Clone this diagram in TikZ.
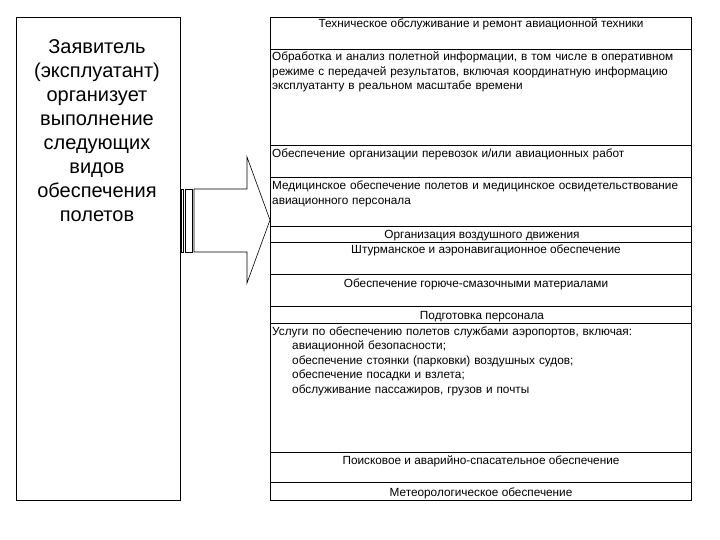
\documentclass[tikz,border=0pt]{standalone}
\usepackage{fontspec}
\setmainfont{Liberation Sans}
\newcommand\rtfont{\fontsize{11.8}{14.5}\selectfont}
\newcommand\ltfont{\fontsize{20}{24}\selectfont}
\begin{document}
\begin{tikzpicture}[x=1pt,y=-1pt,
  boxline/.style={draw=black,line width=0.9pt},
  rowbox/.style={boxline,inner sep=0pt,outer sep=0pt,minimum width=421pt,anchor=north west},
  ctxt/.style={font=\rtfont,inner sep=0pt,anchor=base},
  ltxt/.style={font=\rtfont,inner sep=0pt,anchor=base west,text width=417pt,align=left},
  arrowline/.style={draw=black,line width=0.6pt}]
\useasboundingbox (0,0) rectangle (720,540);
% left box
\node[boxline,inner sep=0pt,minimum width=164pt,minimum height=483pt,anchor=north west] (lbox) at (16,17) {};
\node[font=\ltfont,inner sep=0pt,anchor=base,text width=160pt,align=center] (ltext) at (97,54)
  {Заявитель\\(эксплуатант)\\организует\\выполнение\\следующих\\видов\\обеспечения\\полетов};
% striped arrow
\node[arrowline,inner sep=0pt,minimum width=2pt,minimum height=63pt,anchor=north west] (s1) at (181,189) {};
\node[arrowline,inner sep=0pt,minimum width=7pt,minimum height=63pt,anchor=north west] (s2) at (185,189) {};
\coordinate (tip) at (270,220);
\draw[arrowline] (194,189) -- (247,189) -- (247,157) -- (tip) -- (247,283) -- (247,252) -- (194,252) -- cycle;
% right rows
\node[rowbox,minimum height=32pt] (r1) at (270,17) {};
\node[rowbox,minimum height=96pt] (r2) at (270,49) {};
\node[rowbox,minimum height=32pt] (r3) at (270,145) {};
\node[rowbox,minimum height=49pt] (r4) at (270,177) {};
\node[rowbox,minimum height=16pt] (r5) at (270,226) {};
\node[rowbox,minimum height=32pt] (r6) at (270,242) {};
\node[rowbox,minimum height=32pt] (r7) at (270,274) {};
\node[rowbox,minimum height=17pt] (r8) at (270,306) {};
\node[rowbox,minimum height=129pt] (r9) at (270,323) {};
\node[rowbox,minimum height=30pt] (r10) at (270,452) {};
\node[rowbox,minimum height=18pt] (r11) at (270,482) {};
% texts
\node[ctxt] (t1) at (481,28) {Техническое обслуживание и ремонт авиационной техники};
\node[ltxt] (t2) at (272,61) {Обработка и анализ полетной информации, в том числе в оперативном\\режиме с передачей результатов, включая координатную информацию\\эксплуатанту в реальном масштабе времени};
\node[ltxt] (t3) at (272,158) {Обеспечение организации перевозок и/или авиационных работ};
\node[ltxt] (t4) at (272,190) {Медицинское обеспечение полетов и медицинское освидетельствование\\авиационного персонала};
\node[ctxt] (t5) at (482,238) {Организация воздушного движения};
\node[ctxt] (t6) at (486,254) {Штурманское и аэронавигационное обеспечение};
\node[ctxt] (t7) at (476,287) {Обеспечение горюче-смазочными материалами};
\node[ctxt] (t8) at (482,319) {Подготовка персонала};
\node[ltxt] (t9) at (272,335) {Услуги по обеспечению полетов службами аэропортов, включая:\\
  \hspace*{20pt}авиационной безопасности;\\
  \hspace*{20pt}обеспечение стоянки (парковки) воздушных судов;\\
  \hspace*{20pt}обеспечение посадки и взлета;\\
  \hspace*{20pt}обслуживание пассажиров, грузов и почты};
\node[ctxt] (t10) at (481,464) {Поисковое и аварийно-спасательное обеспечение};
\node[ctxt] (t11) at (481,496) {Метеорологическое обеспечение};
\end{tikzpicture}
\end{document}
